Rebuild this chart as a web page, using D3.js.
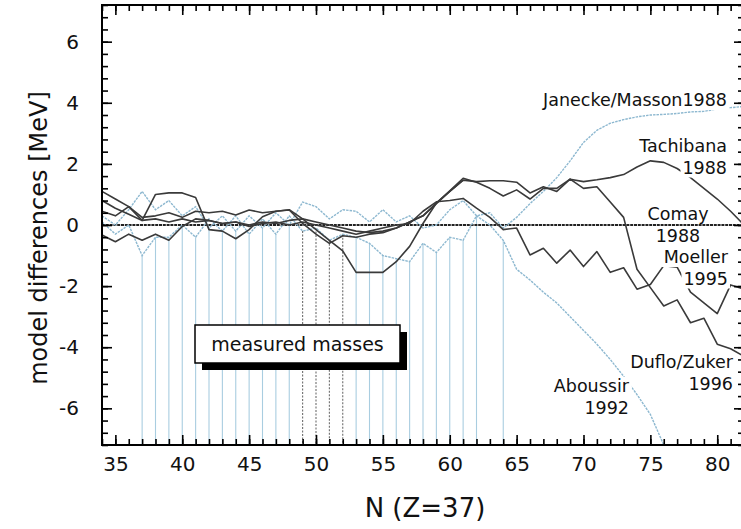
<!DOCTYPE html>
<html><head><meta charset="utf-8">
<script src="https://cdn.jsdelivr.net/npm/d3@7"></script>
<style>
body{margin:0;background:#fff}
svg{display:block}
text{font-family:"DejaVu Sans",sans-serif;fill:#111}
</style>
</head><body>
<svg id="c" width="741" height="529"></svg>
<script>
// ---------- data ----------
const neutronN = [34,35,36,37,38,39,40,41,42,43,44,45,46,47,48,49,50,51,52,53,54,55,56,57,58,59,60,61,62,63,64,65,66,67,68,69,70,71,72,73,74,75,76,77,78,79,80,81,82];
const tachibana = [1.1,0.85,0.6,0.15,1.0,1.05,1.05,0.9,-0.15,-0.2,-0.45,-0.15,0.27,0.45,0.49,0.05,-0.3,-0.6,-0.35,-0.4,-0.3,-0.25,-0.1,0.1,0.3,0.7,1.1,1.47,1.42,1.45,1.45,1.4,1.05,1.25,1.1,1.5,1.42,1.48,1.55,1.65,1.9,2.1,2.05,1.85,1.55,1.2,0.85,0.45,0.0];
const comay = [0.45,0.3,0.6,0.25,0.3,0.4,0.25,0.45,0.4,0.45,0.33,0.49,0.4,0.45,0.5,0.2,0.1,0.0,-0.1,-0.2,-0.25,-0.2,-0.1,0.1,0.3,0.72,1.1,1.47,null,null,null,null,null,null,null,null,null,null,null,null,null,null,null,null,null,null,null,null,null];
const moeller = [-0.33,-0.55,-0.3,-0.5,-0.3,-0.5,-0.05,0.2,0.15,0.05,0.1,-0.05,0.05,0.1,0.0,0.1,0.0,-0.1,-0.2,-0.3,-0.2,-0.1,0.0,0.05,0.45,0.76,0.8,0.87,0.55,0.25,-0.15,-0.1,-0.98,-0.76,-1.25,-0.82,-1.36,-0.87,-1.55,-1.4,-2.1,-1.95,-1.33,-1.38,-2.2,-2.55,-2.9,-1.96,-2.1];
const dufloZuker = [0.8,0.55,0.35,0.15,0.2,0.1,0.2,0.1,0.15,0.05,0.1,0.0,0.1,0.05,0.15,0.2,-0.15,-0.5,-0.85,-1.55,-1.55,-1.55,-1.2,-0.7,0.05,0.72,1.12,1.53,1.4,1.2,0.95,1.15,0.85,1.2,1.2,1.5,1.2,1.25,0.75,0.25,-1.45,-2.05,-2.65,-2.45,-3.2,-3.05,-3.9,-4.05,-4.3];
const janecke = [0.3,0.0,0.5,1.1,0.5,0.8,0.3,0.6,-0.1,0.3,-0.2,0.3,-0.1,0.4,0.0,0.75,0.6,0.2,0.5,0.45,0.1,0.5,0.1,0.3,-0.1,0.0,0.5,0.8,0.3,0.4,-0.1,0.25,0.7,1.1,1.55,2.1,2.7,3.1,3.33,3.45,3.54,3.6,3.62,3.65,3.7,3.72,3.8,3.84,3.88];
const aboussir = [0.1,-0.3,0.0,-1.0,-0.4,-0.4,0.0,-0.4,0.2,-0.2,0.3,-0.3,0.2,-0.3,0.3,-0.2,-0.1,-0.5,-0.3,-0.4,-0.6,-1.0,-1.1,-1.2,-0.6,-0.9,-0.4,-0.5,0.3,0.0,-0.5,-1.45,-1.8,-2.2,-2.55,-3.0,-3.45,-3.9,-4.4,-4.95,-5.55,-6.2,-7.2,null,null,null,null,null,null];
const measuredN = [37,38,39,40,41,42,43,44,45,46,47,48,49,50,51,52,53,54,55,56,57,58,59,60,61,62,64];
const measuredDarkN = [49,50,51,52];
const xTickLabels = [35,40,45,50,55,60,65,70,75,80];
const yTickLabels = [-6,-4,-2,0,2,4,6];
const labelLines = [
  ["Janecke/Masson1988"],
  ["Tachibana","1988"],
  ["Comay","1988"],
  ["Moeller","1995"],
  ["Duflo/Zuker","1996"],
  ["Aboussir","1992"]
];
const boxText = "measured masses";
const xTitle = "N (Z=37)";
const yTitle = "model differences [MeV]";

// ---------- layout ----------
const labelPos = [
  {x:727,y:106,a:"end"},
  {x:727,y:152,a:"end"},
  {x:678,y:220,a:"middle"},
  {x:728,y:263,a:"end"},
  {x:733,y:368,a:"end"},
  {x:629,y:392,a:"end"}
];
const L=102,R=744,T=5,B=445;
const svg = d3.select("#c");
const x = d3.scaleLinear().domain([34,82]).range([L,R]);
const y = d3.scaleLinear().domain([-7.2,7.2]).range([B,T]);

svg.append("defs").append("clipPath").attr("id","clip")
  .append("rect").attr("x",L).attr("y",T).attr("width",R-L).attr("height",B-T);
const plot = svg.append("g").attr("clip-path","url(#clip)");

// measured-mass vertical lines
const idx = n => neutronN.indexOf(n);
plot.selectAll("line.mm").data(measuredN).join("line").attr("class","mm")
  .attr("x1",d=>x(d)).attr("x2",d=>x(d))
  .attr("y1",d=>y(Math.min(janecke[idx(d)],aboussir[idx(d)])))
  .attr("y2",B)
  .attr("stroke",d=>measuredDarkN.includes(d)?"#6d6d6d":"#a9cde0")
  .attr("stroke-width",1.1)
  .attr("stroke-dasharray",d=>measuredDarkN.includes(d)?"2,1.5":null);

// zero line
plot.append("line").attr("x1",L).attr("x2",R).attr("y1",y(0)).attr("y2",y(0))
  .attr("stroke","#222").attr("stroke-width",1.8).attr("stroke-dasharray","3,0.8");

const line = d3.line().defined(d=>d[1]!=null).x(d=>x(d[0])).y(d=>y(d[1]));
const toPts = s => neutronN.map((n,i)=>[n,s[i]]);
[janecke,aboussir].forEach(s=>{
  plot.append("path").datum(toPts(s)).attr("d",line).attr("fill","none")
    .attr("stroke","#8db8d0").attr("stroke-width",1.4).attr("stroke-dasharray","2.5,1");
});
[tachibana,comay,moeller,dufloZuker].forEach(s=>{
  plot.append("path").datum(toPts(s)).attr("d",line).attr("fill","none")
    .attr("stroke","#3a3a3a").attr("stroke-width",1.6).attr("stroke-linejoin","round");
});

// axes
const xMinor = d3.range(34,83);
const yMinor = d3.range(-18,19).map(k=>k*0.4);
function styleAxis(g){
  g.select(".domain").remove();
  g.selectAll(".tick line").attr("stroke","#000").attr("stroke-width",1.6);
}
svg.append("g").attr("transform",`translate(0,${B})`)
  .call(d3.axisBottom(x).tickValues(xMinor).tickSize(-6).tickFormat("")).call(styleAxis);
svg.append("g").attr("transform",`translate(0,${B})`)
  .call(d3.axisBottom(x).tickValues(xTickLabels).tickSize(-10).tickPadding(12).tickFormat(d=>String(d)))
  .call(styleAxis)
  .call(g=>g.selectAll("text").attr("font-size",20).attr("font-family","DejaVu Sans").attr("fill","#111"));
svg.append("g").attr("transform",`translate(0,${T})`)
  .call(d3.axisTop(x).tickValues(xMinor).tickSize(-6).tickFormat("")).call(styleAxis);
svg.append("g").attr("transform",`translate(0,${T})`)
  .call(d3.axisTop(x).tickValues(xTickLabels).tickSize(-10).tickFormat("")).call(styleAxis);
svg.append("g").attr("transform",`translate(${L},0)`)
  .call(d3.axisLeft(y).tickValues(yMinor).tickSize(-6).tickFormat("")).call(styleAxis);
svg.append("g").attr("transform",`translate(${L},0)`)
  .call(d3.axisLeft(y).tickValues(yTickLabels).tickSize(-10).tickPadding(23).tickFormat(d=>String(d)))
  .call(styleAxis)
  .call(g=>g.selectAll("text").attr("font-size",20).attr("font-family","DejaVu Sans").attr("fill","#111"));
svg.append("g").attr("transform",`translate(${R},0)`)
  .call(d3.axisRight(y).tickValues(yMinor).tickSize(-6).tickFormat("")).call(styleAxis);
svg.append("g").attr("transform",`translate(${R},0)`)
  .call(d3.axisRight(y).tickValues(yTickLabels).tickSize(-10).tickFormat("")).call(styleAxis);

// frame
svg.append("rect").attr("x",L).attr("y",T).attr("width",R-L).attr("height",B-T)
  .attr("fill","none").attr("stroke","#000").attr("stroke-width",2);

// series labels with white backgrounds
labelLines.forEach((lines,i)=>{
  const p = labelPos[i];
  const g = svg.append("g");
  lines.forEach((t,j)=>{
    const tx = g.append("text").attr("x",p.x).attr("y",p.y+j*21.5)
      .attr("text-anchor",p.a).attr("font-size",17.5).text(t);
    const b = tx.node().getBBox();
    g.insert("rect","text").attr("x",b.x-2).attr("y",b.y+1).attr("width",b.width+4).attr("height",b.height-1)
      .attr("fill","#fff");
  });
});

// measured masses box
svg.append("rect").attr("x",202).attr("y",332).attr("width",205).attr("height",38).attr("fill","#000");
svg.append("rect").attr("x",195).attr("y",325).attr("width",205).attr("height",38)
  .attr("fill","#fff").attr("stroke","#000").attr("stroke-width",1.5);
svg.append("text").attr("x",297.5).attr("y",351).attr("text-anchor","middle")
  .attr("font-size",19).text(boxText);

// axis titles
svg.append("text").attr("x",425).attr("y",517).attr("text-anchor","middle")
  .attr("font-size",26).text(xTitle);
svg.append("text").attr("transform","translate(47,238) rotate(-90)").attr("text-anchor","middle")
  .attr("font-size",24).text(yTitle);
</script>
</body></html>
